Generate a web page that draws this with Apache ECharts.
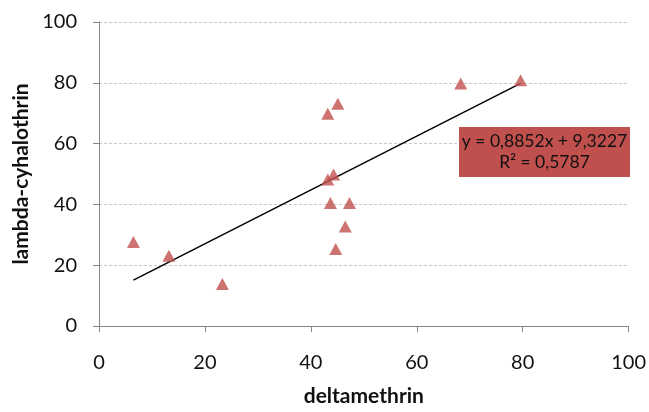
<!DOCTYPE html>
<html><head><meta charset="utf-8">
<script src="https://cdn.jsdelivr.net/npm/echarts@6/dist/echarts.min.js"></script>
<style>html,body{margin:0;padding:0;background:#fff}#c{width:649px;height:412px}</style>
</head><body><div id="c"></div>
<script>
var deltamethrin = [6.5, 13.2, 23.3, 43.2, 45.1, 43.2, 44.3, 43.7, 47.3, 46.5, 44.7, 68.3, 79.6];
var lambdaCyhalothrin = [27.6, 23.1, 13.8, 69.8, 73.1, 48.2, 49.8, 40.5, 40.5, 32.7, 25.3, 79.8, 80.8];
var slope = 0.8852, intercept = 9.3227;
var equationText = 'y = 0,8852x + 9,3227';
var r2Text = 'R² = 0,5787';
var xTitle = 'deltamethrin', yTitle = 'lambda-cyhalothrin';

var pts = deltamethrin.map(function(x,i){return [x, lambdaCyhalothrin[i]];});
var xmin = Math.min.apply(null, deltamethrin), xmax = Math.max.apply(null, deltamethrin);
var trend = [[xmin, slope*xmin+intercept],[xmax, slope*xmax+intercept]];
var font = 'Lato, "Open Sans", sans-serif';
var chart = echarts.init(document.getElementById('c'), null, {renderer:'canvas'});
chart.setOption({
  animation:false,
  grid:{left:99,right:19,top:22,bottom:81},
  xAxis:{type:'value',min:0,max:100,interval:20,
    name:xTitle,nameLocation:'middle',nameGap:60,
    nameTextStyle:{fontFamily:font,fontSize:21,fontWeight:'bold',color:'#111'},
    axisLine:{lineStyle:{color:'#868686'}},axisTick:{show:true,length:6,lineStyle:{color:'#868686'}},
    axisLabel:{fontFamily:font,fontSize:20,color:'#111',margin:27},splitLine:{show:false}},
  yAxis:{type:'value',min:0,max:100,interval:20,
    name:yTitle,nameLocation:'middle',nameGap:67,
    nameTextStyle:{fontFamily:font,fontSize:21,fontWeight:'bold',color:'#111'},
    axisLine:{show:true,lineStyle:{color:'#868686'}},axisTick:{show:true,length:6,lineStyle:{color:'#868686'}},
    axisLabel:{fontFamily:font,fontSize:20,color:'#111',margin:22},
    splitLine:{show:true,lineStyle:{color:'#c8c8c8',type:[3,2],width:1}}},
  series:[
    {type:'line',data:trend,symbol:'none',lineStyle:{color:'#000',width:1.5},z:3},
    {type:'scatter',data:pts,symbol:'triangle',symbolSize:[13,12],itemStyle:{color:'#C0504D'},z:4}
  ],
  graphic:[
    {type:'rect',z:10,shape:{x:459,y:127,width:171,height:50},style:{fill:'#C0504D'}},
    {type:'text',z:11,style:{x:544.5,y:131,text:equationText+'\n'+r2Text,font:'17.5px '+font,fill:'#111',align:'center',verticalAlign:'top',lineHeight:21}}
  ]
});
</script></body></html>
